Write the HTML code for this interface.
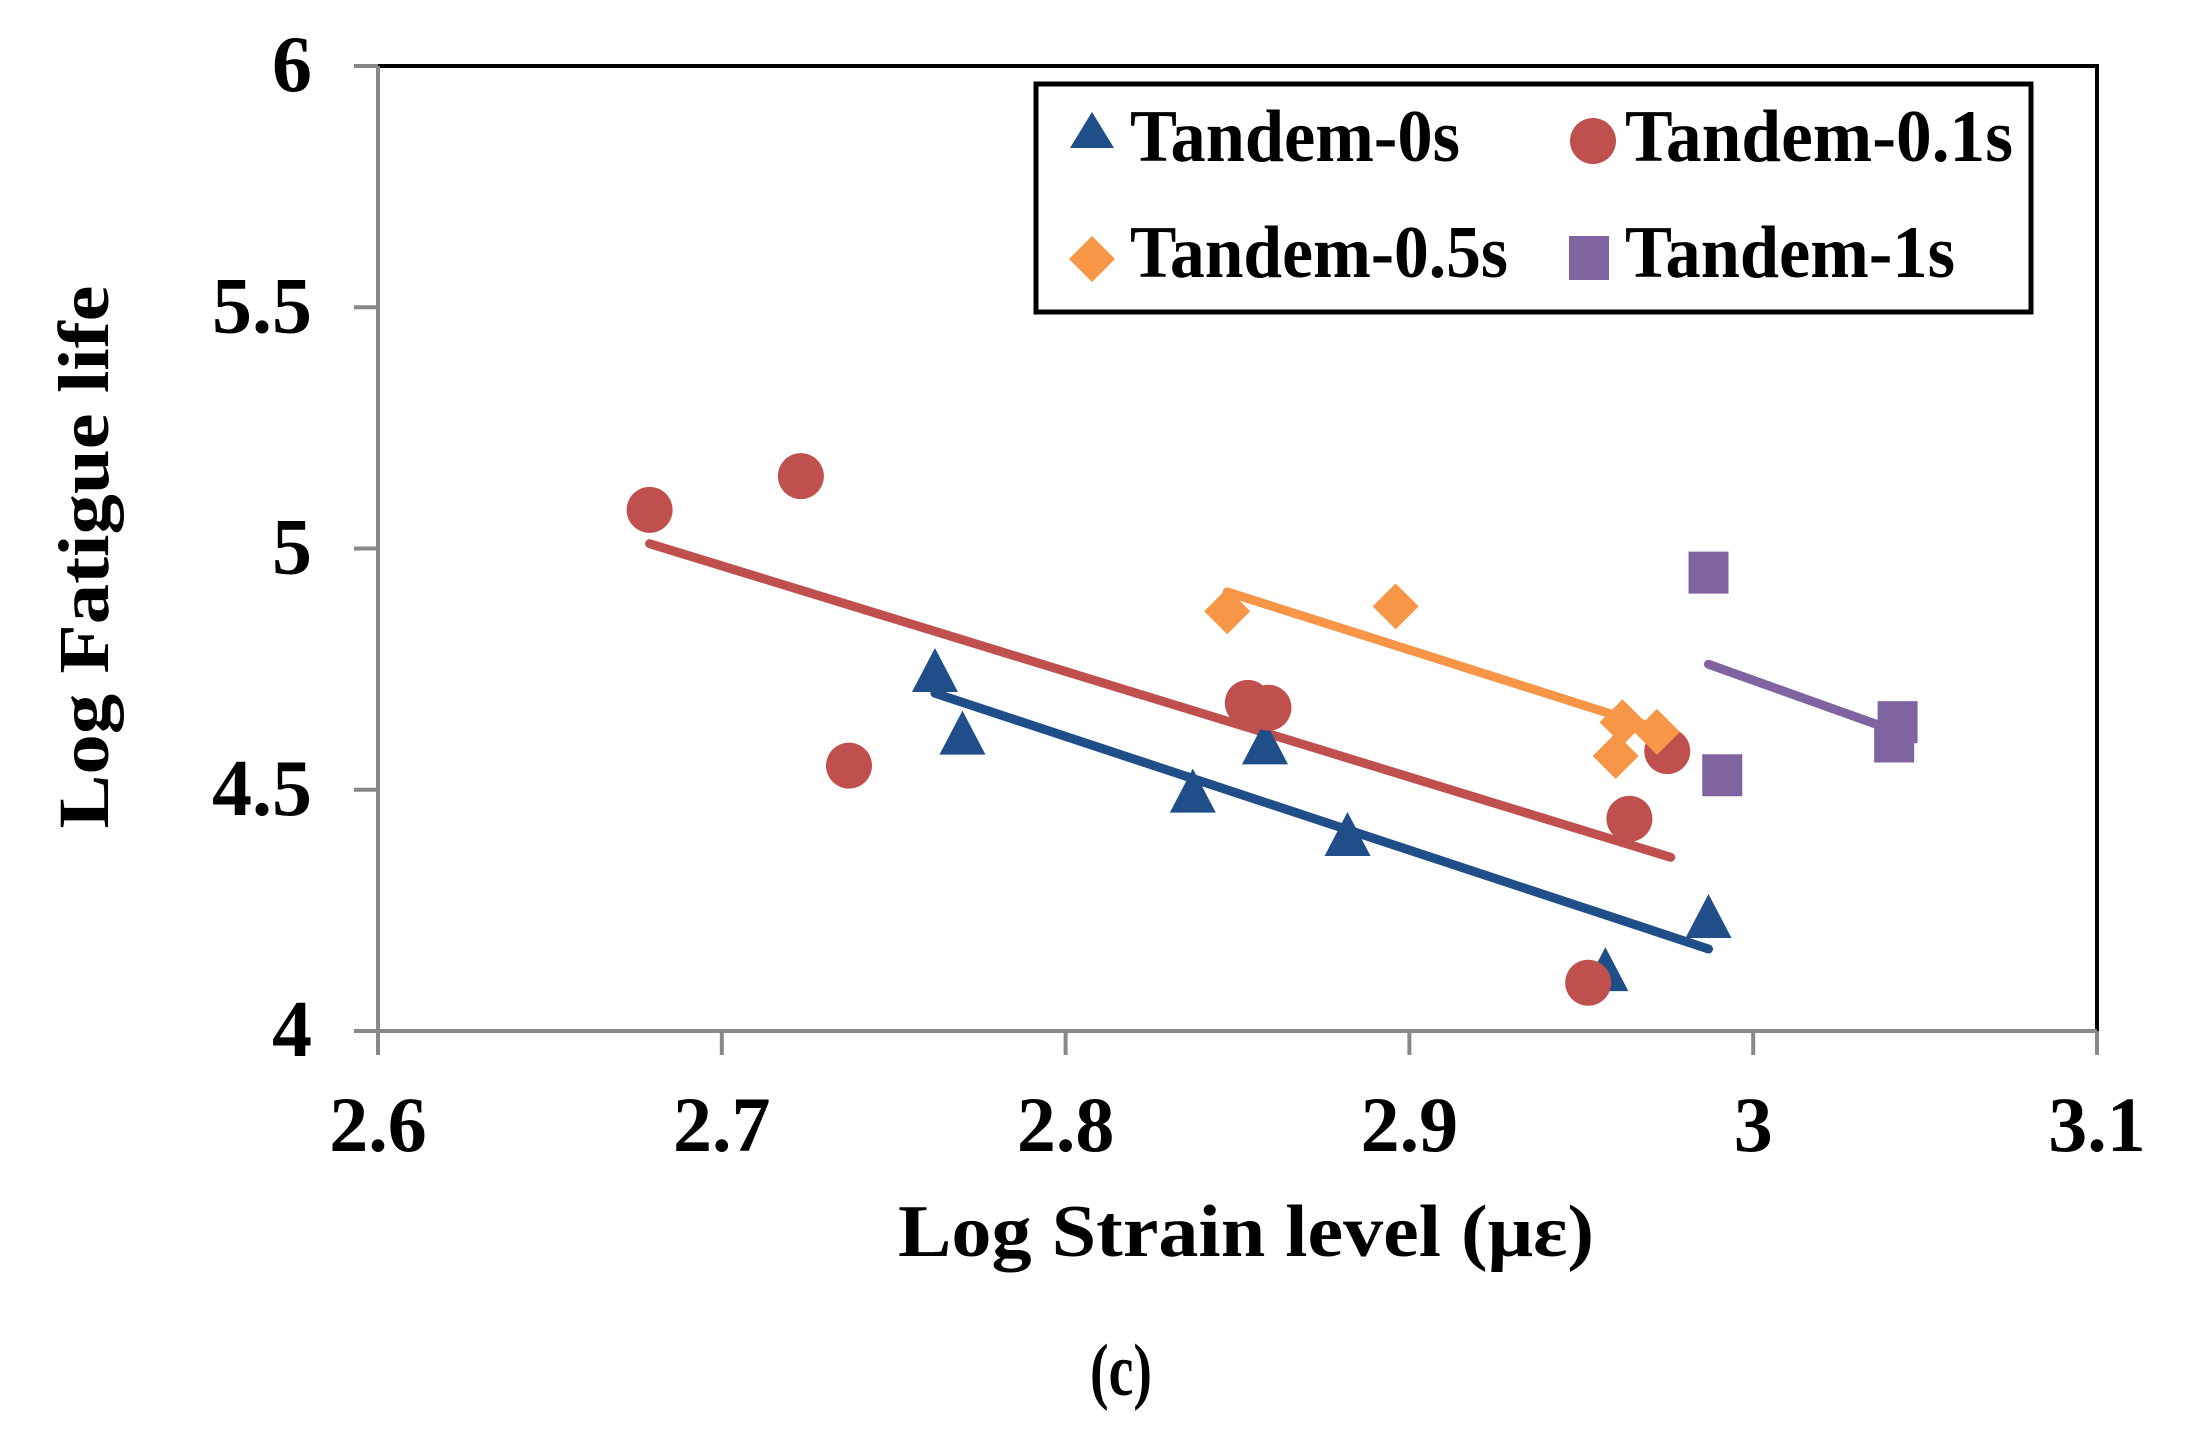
<!DOCTYPE html>
<html><head><meta charset="utf-8"><style>
html,body{margin:0;padding:0;background:#fff;}
svg{display:block;font-family:"Liberation Serif",serif;font-weight:bold;}
</style></head><body>
<svg id="chart" width="2185" height="1443" viewBox="0 0 2185 1443" xmlns="http://www.w3.org/2000/svg">
<rect x="0" y="0" width="2185" height="1443" fill="#fff"/>
<g id="axes"></g>
<g id="series"></g>
<g>
<rect x="1036" y="84" width="995" height="228" fill="#fff" stroke="#000" stroke-width="5"/>
<polygon points="1092,112 1070,148 1114,148" fill="#1f4e89"/>
<text x="1130" y="161" font-size="74" textLength="330" lengthAdjust="spacingAndGlyphs">Tandem-0s</text>
<circle cx="1593" cy="141" r="23" fill="#c0504d"/>
<text x="1625" y="161" font-size="74" textLength="388" lengthAdjust="spacingAndGlyphs">Tandem-0.1s</text>
<polygon points="1092,236 1115,259 1092,282 1069,259" fill="#f79646"/>
<text x="1130" y="277" font-size="74" textLength="378" lengthAdjust="spacingAndGlyphs">Tandem-0.5s</text>
<rect x="1569" y="236" width="40" height="44" fill="#8064a2"/>
<text x="1625" y="277" font-size="74" textLength="330" lengthAdjust="spacingAndGlyphs">Tandem-1s</text>
</g>
<text x="1246" y="1256" font-size="74" text-anchor="middle" textLength="696" lengthAdjust="spacingAndGlyphs">Log Strain level (με)</text>
<text transform="translate(108,557) rotate(-90)" font-size="72" text-anchor="middle" textLength="543" lengthAdjust="spacingAndGlyphs">Log Fatigue life</text>
<text x="1121" y="1395" font-size="74" text-anchor="middle" textLength="62" lengthAdjust="spacingAndGlyphs">(c)</text>
</svg>
<script>
const xTicks = [2.6, 2.7, 2.8, 2.9, 3.0, 3.1];
const xTickLabels = ["2.6", "2.7", "2.8", "2.9", "3", "3.1"];
const yTicks = [4, 4.5, 5, 5.5, 6];
const yTickLabels = ["4", "4.5", "5", "5.5", "6"];
const t0x = [2.762, 2.770, 2.837, 2.858, 2.882, 2.957, 2.987];
const t0y = [4.74, 4.61, 4.49, 4.59, 4.40, 4.12, 4.23];
const t01x = [2.679, 2.723, 2.737, 2.853, 2.859, 2.952, 2.964, 2.975];
const t01y = [5.08, 5.15, 4.55, 4.68, 4.67, 4.10, 4.44, 4.58];
const t05x = [2.847, 2.896, 2.960, 2.962, 2.972];
const t05y = [4.87, 4.88, 4.57, 4.64, 4.62];
const t1x = [2.987, 2.991, 3.041, 3.042];
const t1y = [4.95, 4.53, 4.60, 4.64];
const t0Trend = [2.762, 4.70, 2.987, 4.17];
const t01Trend = [2.679, 5.01, 2.976, 4.36];
const t05Trend = [2.847, 4.91, 2.975, 4.62];
const t1Trend = [2.987, 4.76, 3.042, 4.62];

const X0 = 378, X1 = 2097, Y0 = 1031, Y1 = 66;
function sx(v){ return X0 + (v - 2.6) / 0.5 * (X1 - X0); }
function sy(v){ return Y0 - (v - 4) / 2 * (Y0 - Y1); }
const NS = "http://www.w3.org/2000/svg";
function mk(tag, attrs, parent){ const e = document.createElementNS(NS, tag); for (const k in attrs) e.setAttribute(k, attrs[k]); parent.appendChild(e); return e; }
const axes = document.getElementById('axes');
const series = document.getElementById('series');

let f = mk('rect', {x:X0, y:Y1, width:X1-X0, height:Y0-Y1, fill:'none', stroke:'#000', 'stroke-width':4}, axes);


let xa = mk('line', {x1:X0, y1:Y0, x2:X1, y2:Y0, stroke:'#888', 'stroke-width':4}, axes);


let ya = mk('line', {x1:X0, y1:Y0, x2:X0, y2:Y1, stroke:'#888', 'stroke-width':4}, axes);



xTicks.forEach((v, i) => {
  const t = mk('line', {x1:sx(v), y1:Y0, x2:sx(v), y2:Y0+24, stroke:'#888', 'stroke-width':4}, axes);
  
  
  const l = mk('text', {x:sx(v), y:Y0+120, 'font-size':78, 'text-anchor':'middle'}, axes);
  l.textContent = xTickLabels[i];
  
  
});
yTicks.forEach((v, i) => {
  const t = mk('line', {x1:X0-24, y1:sy(v), x2:X0, y2:sy(v), stroke:'#888', 'stroke-width':4}, axes);
  
  
  const l = mk('text', {x:312, y:sy(v)+25, 'font-size':80, 'text-anchor':'end'}, axes);
  l.textContent = yTickLabels[i];
  
  
});

function trend(tr, color, name){
  const l = mk('line', {x1:sx(tr[0]), y1:sy(tr[1]), x2:sx(tr[2]), y2:sy(tr[3]), stroke:color, 'stroke-width':9, 'stroke-linecap':'round'}, series);
  
  
}
trend(t01Trend, '#c0504d', 'trendline-tandem-0.1s');
trend(t0Trend, '#1f4e89', 'trendline-tandem-0s');
trend(t05Trend, '#f79646', 'trendline-tandem-0.5s');
trend(t1Trend, '#8064a2', 'trendline-tandem-1s');

t0x.forEach((v, i) => {
  const x = sx(v), y = sy(t0y[i]);
  const p = mk('polygon', {points:`${x},${y-26} ${x-23},${y+18} ${x+23},${y+18}`, fill:'#1f4e89'}, series);
  
  
});
t01x.forEach((v, i) => {
  const c = mk('circle', {cx:sx(v), cy:sy(t01y[i]), r:23, fill:'#c0504d'}, series);
  
  
});
t05x.forEach((v, i) => {
  const x = sx(v), y = sy(t05y[i]);
  const p = mk('polygon', {points:`${x},${y-23} ${x+23},${y} ${x},${y+23} ${x-23},${y}`, fill:'#f79646'}, series);
  
  
});
t1x.forEach((v, i) => {
  const r = mk('rect', {x:sx(v)-20, y:sy(t1y[i])-21, width:40, height:42, fill:'#8064a2'}, series);
  
  
});
</script>
</body></html>
